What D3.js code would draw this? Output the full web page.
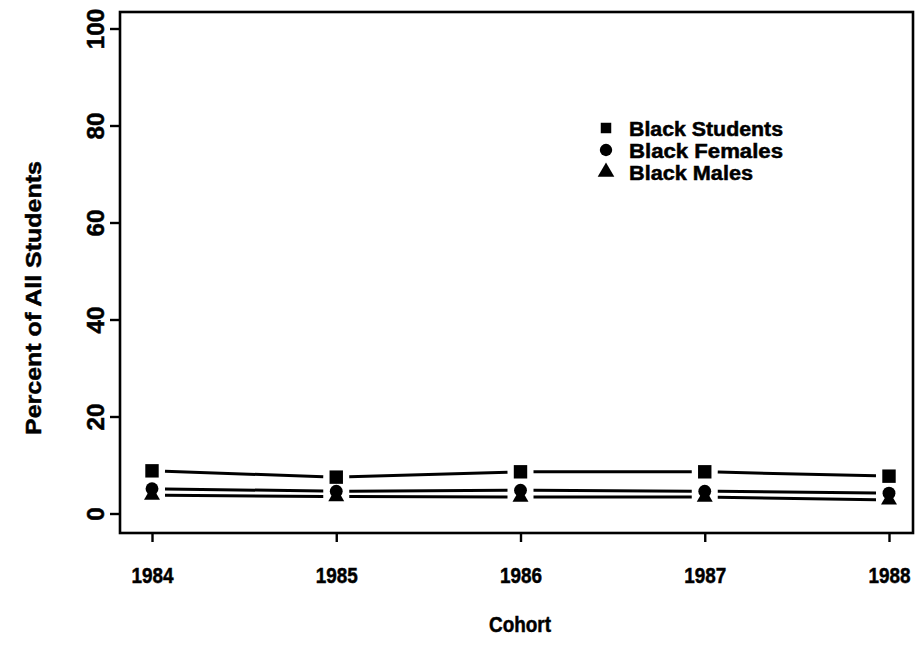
<!DOCTYPE html>
<html>
<head>
<meta charset="utf-8">
<script src="https://cdn.jsdelivr.net/npm/d3@7"></script>
<style>
  body { margin: 0; background: #fff; }
  text { font-family: "Liberation Sans", Arial, sans-serif; font-weight: bold; fill: #000; stroke: #000; stroke-width: 0.5px; }
</style>
</head>
<body>
<svg width="918" height="651"></svg>
<script>
// data
var cohorts = [1984, 1985, 1986, 1987, 1988];
var blackStudents = [8.9, 7.6, 8.7, 8.7, 7.8];
var blackFemales = [5.2, 4.7, 4.9, 4.7, 4.3];
var blackMales = [3.9, 3.6, 3.5, 3.5, 2.9];
var yTicks = [0, 20, 40, 60, 80, 100];
var seriesNames = ["Black Students", "Black Females", "Black Males"];

var svg = d3.select("svg"),
    width = 918,
    height = 651;

svg.append("rect").attr("width", width).attr("height", height).attr("fill", "#fff");

var x = d3.scaleLinear().domain([1984, 1988]).range([152, 889]);
var y = d3.scaleLinear().domain([0, 100]).range([514, 29]);

// plot box
svg.append("rect")
    .attr("x", 120).attr("y", 12)
    .attr("width", 793).attr("height", 521)
    .attr("fill", "none").attr("stroke", "#000").attr("stroke-width", 2.6);

// y axis
var yAxis = svg.append("g")
    .attr("transform", "translate(120,0)")
    .call(d3.axisLeft(y).tickValues(yTicks).tickSize(10).tickFormat(d3.format("d")));
yAxis.select(".domain").remove();
yAxis.selectAll(".tick").attr("transform", null);
yAxis.selectAll(".tick line")
    .attr("stroke", "#000").attr("stroke-width", 2.4)
    .attr("y1", function(d) { return y(d); })
    .attr("y2", function(d) { return y(d); });
yAxis.selectAll(".tick text")
    .attr("x", null).attr("y", 0).attr("dy", null)
    .attr("transform", function(d) { return "translate(-16," + y(d) + ") rotate(-90)"; })
    .attr("text-anchor", "middle")
    .attr("textLength", function(d) { return String(d).length * 13.5; })
    .attr("lengthAdjust", "spacingAndGlyphs")
    .attr("font-size", 24)
    .attr("font-family", null);

// x axis
var xAxis = svg.append("g")
    .attr("transform", "translate(0,533)")
    .call(d3.axisBottom(x).tickValues(cohorts).tickSize(9).tickFormat(d3.format("d")));
xAxis.select(".domain").remove();
xAxis.selectAll(".tick line").attr("stroke", "#000").attr("stroke-width", 2.4);
xAxis.selectAll(".tick text")
    .attr("y", 50).attr("dy", null)
    .attr("textLength", 42).attr("lengthAdjust", "spacingAndGlyphs")
    .attr("font-size", 22)
    .attr("font-family", null);
xAxis.attr("font-size", null).attr("font-family", null);
yAxis.attr("font-size", null).attr("font-family", null);

// axis titles
svg.append("text")
    .attr("x", 520).attr("y", 632)
    .attr("text-anchor", "middle")
    .attr("textLength", 62).attr("lengthAdjust", "spacingAndGlyphs")
    .attr("font-size", 22)
    .text("Cohort");

svg.append("text")
    .attr("transform", "translate(41,298) rotate(-90)")
    .attr("text-anchor", "middle")
    .attr("textLength", 274).attr("lengthAdjust", "spacingAndGlyphs")
    .attr("font-size", 22)
    .text("Percent of All Students");

// lines with gaps round the points, like R type="b"
var gap = 13;
function drawSeries(values) {
  for (var i = 0; i < values.length - 1; i++) {
    var x0 = x(cohorts[i]), y0 = y(values[i]),
        x1 = x(cohorts[i + 1]), y1 = y(values[i + 1]);
    var dx = x1 - x0, dy = y1 - y0, len = Math.sqrt(dx * dx + dy * dy);
    svg.append("line")
        .attr("x1", x0 + dx / len * gap).attr("y1", y0 + dy / len * gap)
        .attr("x2", x1 - dx / len * gap).attr("y2", y1 - dy / len * gap)
        .attr("stroke", "#000").attr("stroke-width", 3);
  }
}
drawSeries(blackStudents);
drawSeries(blackFemales);
drawSeries(blackMales);

var symbols = [d3.symbolSquare, d3.symbolCircle, d3.symbolTriangle];
var sizes = [180, 130, 110];
var seriesValues = [blackStudents, blackFemales, blackMales];

seriesValues.forEach(function(values, s) {
  svg.append("g").selectAll("path")
      .data(values)
      .join("path")
      .attr("transform", function(d, i) { return "translate(" + x(cohorts[i]) + "," + y(d) + ")"; })
      .attr("d", d3.symbol().type(symbols[s]).size(sizes[s]))
      .attr("fill", "#000");
});

// legend
var legendWidths = [154, 154, 124];
var legend = svg.append("g").attr("transform", "translate(606,128)");
seriesNames.forEach(function(name, i) {
  legend.append("path")
      .attr("transform", "translate(0," + (i * 22) + ")")
      .attr("d", d3.symbol().type(symbols[i]).size(i == 0 ? 110 : 120))
      .attr("fill", "#000");
  legend.append("text")
      .attr("x", 23).attr("y", i * 22 + 8)
      .attr("font-size", 20)
      .attr("textLength", legendWidths[i]).attr("lengthAdjust", "spacingAndGlyphs")
      .text(name);
});
</script>
</body>
</html>
